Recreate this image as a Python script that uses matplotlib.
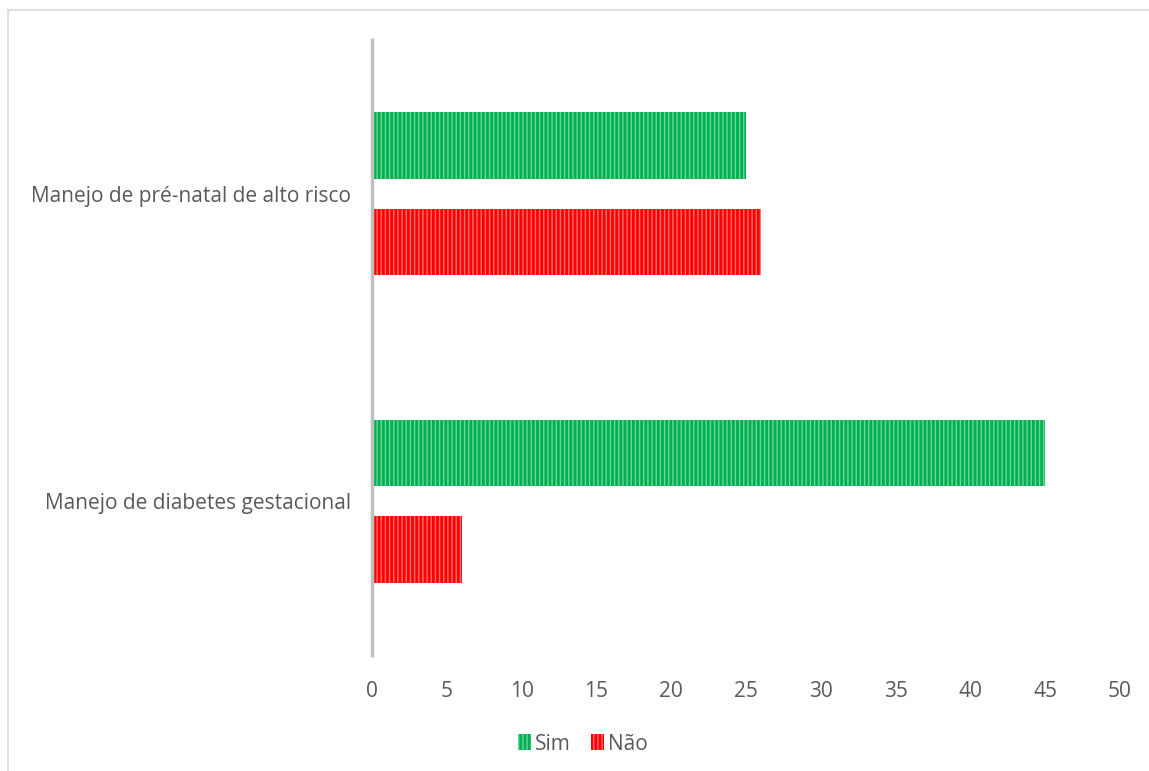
import matplotlib
matplotlib.use("Agg")
import matplotlib.pyplot as plt
from matplotlib.lines import Line2D
from matplotlib.patches import Patch
import numpy as np

categories = ["Manejo de diabetes gestacional", "Manejo de pré-natal de alto risco"]
series_names = ["Sim", "Não"]
sim_values = [45, 25]
nao_values = [6, 26]
x_ticks = [0, 5, 10, 15, 20, 25, 30, 35, 40, 45, 50]

GREEN = "#00B050"
GREEN_STRIPE = "#6AD69A"
RED = "#FF0000"
RED_STRIPE = "#FF7070"
TEXT = "#595959"

plt.rcParams["font.family"] = ["Open Sans", "DejaVu Sans"]
plt.rcParams["hatch.linewidth"] = 1.0

fig = plt.figure(figsize=(11.49, 7.71), dpi=100)
ax = fig.add_axes([372 / 1149, 1 - 655 / 771, (1120 - 372) / 1149, (655 - 40) / 771])

y = np.arange(len(categories)) + 0.5
offset = 0.157
height = 0.215

ax.barh(y + offset, sim_values, height=height, color=GREEN, edgecolor=GREEN_STRIPE,
        hatch="||||", linewidth=0)
ax.barh(y - offset, nao_values, height=height, color=RED, edgecolor=RED_STRIPE,
        hatch="||||", linewidth=0)

ax.set_xlim(0, 50)
ax.set_ylim(0, 2)
ax.set_xticks(x_ticks)
ax.set_xticklabels([str(t) for t in x_ticks])
ax.set_yticks(y)
ax.set_yticklabels(categories)
ax.tick_params(axis="x", length=0, pad=19, labelsize=15, labelcolor=TEXT)
ax.tick_params(axis="y", length=0, pad=15, labelsize=15, labelcolor=TEXT)

for side in ["top", "right", "bottom"]:
    ax.spines[side].set_visible(False)
ax.spines["left"].set_color("#BFBFBF")
ax.spines["left"].set_linewidth(2.5)

handles = [
    Patch(facecolor=GREEN, edgecolor=GREEN_STRIPE, hatch="||||", linewidth=0),
    Patch(facecolor=RED, edgecolor=RED_STRIPE, hatch="||||", linewidth=0),
]
fig.legend(handles, series_names, loc="center", bbox_to_anchor=(583 / 1149, 1 - 744 / 771),
           ncol=2, frameon=False, fontsize=15, labelcolor=TEXT,
           handlelength=0.6, handleheight=0.8, handletextpad=0.2, columnspacing=1.0)

# Outer chart frame (top and left edges)
fig.add_artist(Line2D([8 / 1149, 8 / 1149], [0, 1 - 10 / 771], transform=fig.transFigure,
                      color="#D9D9D9", linewidth=1.2))
fig.add_artist(Line2D([8 / 1149, 1], [1 - 10 / 771, 1 - 10 / 771], transform=fig.transFigure,
                      color="#D9D9D9", linewidth=1.2))

fig.savefig("out.png", dpi=100, facecolor="white")
